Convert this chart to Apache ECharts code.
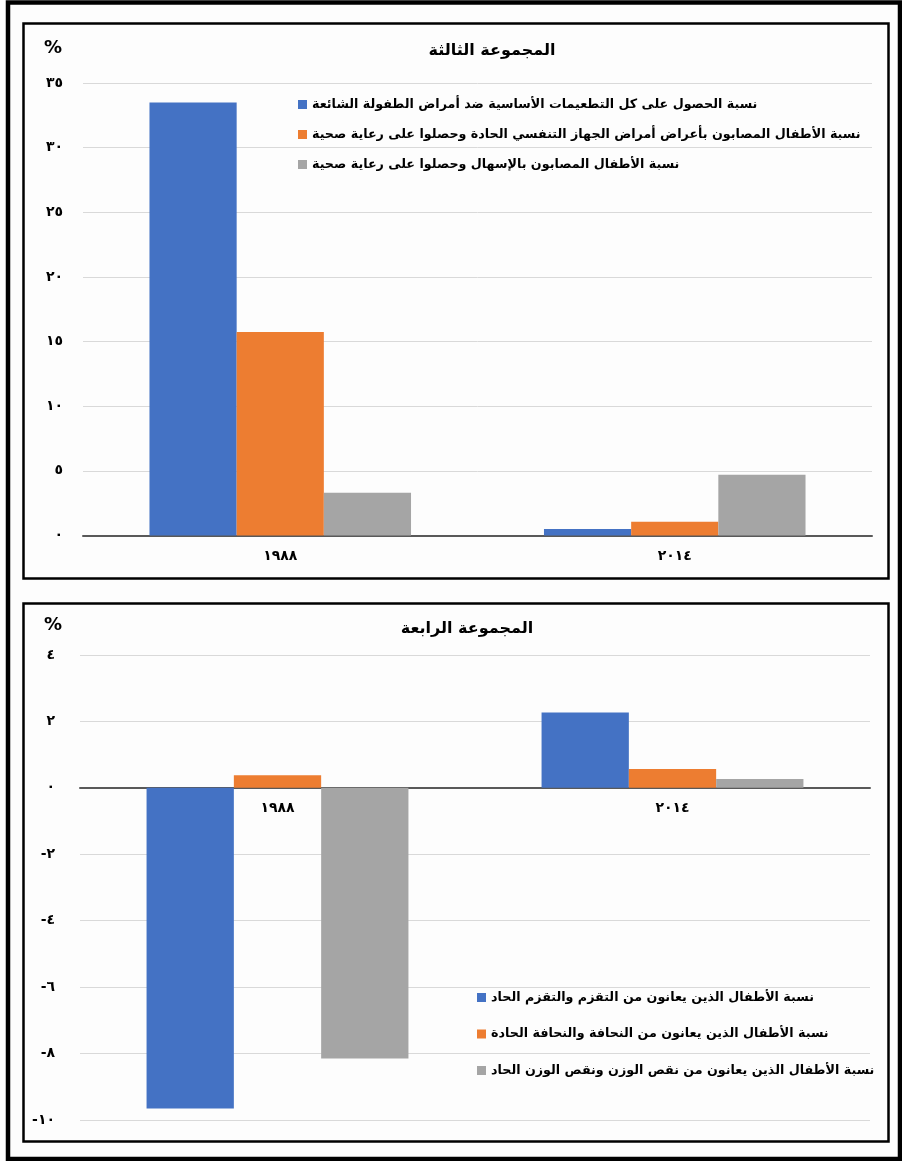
<!DOCTYPE html>
<html>
<head>
<meta charset="utf-8">
<script src="https://cdn.jsdelivr.net/npm/echarts@6/dist/echarts.min.js"></script>
<style>
  html, body { margin: 0; padding: 0; background: #fdfdfd; }
  #chart { width: 902px; height: 1161px; }
</style>
</head>
<body>
<div id="chart"></div>
<script>
// Years on the category axis
const years = ['١٩٨٨', '٢٠١٤'];

// Group three: health-care indicators (%)
const g3Names = [
  'نسبة الحصول على كل التطعيمات الأساسية ضد أمراض الطفولة الشائعة',
  'نسبة الأطفال المصابون بأعراض أمراض الجهاز التنفسي الحادة وحصلوا على رعاية صحية',
  'نسبة الأطفال المصابون بالإسهال وحصلوا على رعاية صحية'
];
const g3Vaccination = [33.5, 0.5];
const g3Respiratory = [15.75, 1.07];
const g3Diarrhea = [3.3, 4.7];

// Group four: nutrition indicators (%)
const g4Names = [
  'نسبة الأطفال الذين يعانون من التقزم والتقزم الحاد',
  'نسبة الأطفال الذين يعانون من النحافة والنحافة الحادة',
  'نسبة الأطفال الذين يعانون من نقص الوزن ونقص الوزن الحاد'
];
const g4Stunting = [-9.65, 2.27];
const g4Wasting = [0.38, 0.57];
const g4Underweight = [-8.15, 0.27];

const colors = ['#4472C4', '#ED7D31', '#A5A5A5'];
const FONT = "'DejaVu Sans', sans-serif";

// Arabic-Indic digits for the value axes
const arDigits = '٠١٢٣٤٥٦٧٨٩';
function toArabic(v) {
  return String(v).replace(/[0-9]/g, d => arDigits[+d]);
}

function valueAxis(gridIndex, min, max, interval, margin) {
  return {
    type: 'value', gridIndex, min, max, interval,
    axisLine: { show: false },
    axisTick: { show: false },
    splitLine: { lineStyle: { color: '#d9d9d9', width: 1 } },
    axisLabel: {
      formatter: toArabic,
      color: '#000', fontFamily: FONT, fontWeight: 'bold', fontSize: 14,
      margin
    }
  };
}
function categoryAxis(gridIndex) {
  return {
    type: 'category', gridIndex,
    data: years,
    position: 'bottom',
    offset: 0,
    axisTick: { show: false },
    axisLine: { onZero: false, lineStyle: { color: '#595959', width: 2 } },
    axisLabel: {
      color: '#000', fontFamily: FONT, fontWeight: 'bold', fontSize: 14, margin: 14
    }
  };
}

function bar(name, data, color, idx) {
  return {
    name, type: 'bar', data,
    xAxisIndex: idx, yAxisIndex: idx,
    barGap: 0, barCategoryGap: '33.7%',
    itemStyle: { color },
    emphasis: { disabled: true }
  };
}

const legendText = { color: '#000', fontFamily: FONT, fontWeight: 'bold', fontSize: 12.7 };

const chart = echarts.init(document.getElementById('chart'), null, { renderer: 'canvas' });
chart.setOption({
  backgroundColor: '#fdfdfd',
  animation: false,
  grid: [
    { left: 83, right: 30, top: 83, bottom: 625.5 },
    { left: 80, right: 32, top: 655, bottom: 41 }
  ],
  xAxis: [categoryAxis(0), categoryAxis(1)],
  yAxis: [valueAxis(0, 0, 35, 5, 20), valueAxis(1, -10, 4, 2, 25)],
  legend: [
    {
      data: g3Names, orient: 'vertical', left: 293, top: 93,
      itemWidth: 9, itemHeight: 9, itemGap: 17, icon: 'rect',
      textStyle: legendText, selectedMode: false
    },
    {
      data: g4Names, orient: 'vertical', left: 472, top: 986,
      itemWidth: 9, itemHeight: 9, itemGap: 23.5, icon: 'rect',
      textStyle: legendText, selectedMode: false
    }
  ],
  series: [
    bar(g3Names[0], g3Vaccination, colors[0], 0),
    bar(g3Names[1], g3Respiratory, colors[1], 0),
    bar(g3Names[2], g3Diarrhea, colors[2], 0),
    bar(g4Names[0], g4Stunting, colors[0], 1),
    bar(g4Names[1], g4Wasting, colors[1], 1),
    bar(g4Names[2], g4Underweight, colors[2], 1)
  ],
  graphic: [
    // outer frame
    { type: 'rect', shape: { x: 8, y: 2.5, width: 892, height: 1156.5 },
      style: { fill: 'none', stroke: '#000', lineWidth: 4.5 }, z: 100 },
    // panel frames
    { type: 'rect', shape: { x: 23.5, y: 23.5, width: 865, height: 555 },
      style: { fill: 'none', stroke: '#000', lineWidth: 2.5 }, z: 100 },
    { type: 'rect', shape: { x: 23.5, y: 603.5, width: 865, height: 538 },
      style: { fill: 'none', stroke: '#000', lineWidth: 2.5 }, z: 100 },
    // titles
    { type: 'text', x: 492, y: 51, style: { text: 'المجموعة الثالثة', align: 'center', verticalAlign: 'middle',
      font: 'bold 16px ' + FONT, fill: '#000' } },
    { type: 'text', x: 467, y: 629, style: { text: 'المجموعة الرابعة', align: 'center', verticalAlign: 'middle',
      font: 'bold 16px ' + FONT, fill: '#000' } },
    // unit marks
    { type: 'text', x: 53, y: 48, style: { text: '%', align: 'center', verticalAlign: 'middle',
      font: 'bold 18px ' + FONT, fill: '#000' } },
    { type: 'text', x: 53, y: 625, style: { text: '%', align: 'center', verticalAlign: 'middle',
      font: 'bold 18px ' + FONT, fill: '#000' } }
  ]
});

// Move the lower panel's year axis (line and labels) up to the zero line of its value scale.
const zeroY = chart.convertToPixel({ yAxisIndex: 1 }, 0);
const floorY = chart.convertToPixel({ yAxisIndex: 1 }, -10);
chart.setOption({
  xAxis: [{}, { offset: -(floorY - zeroY) }]
});
</script>
</body>
</html>
